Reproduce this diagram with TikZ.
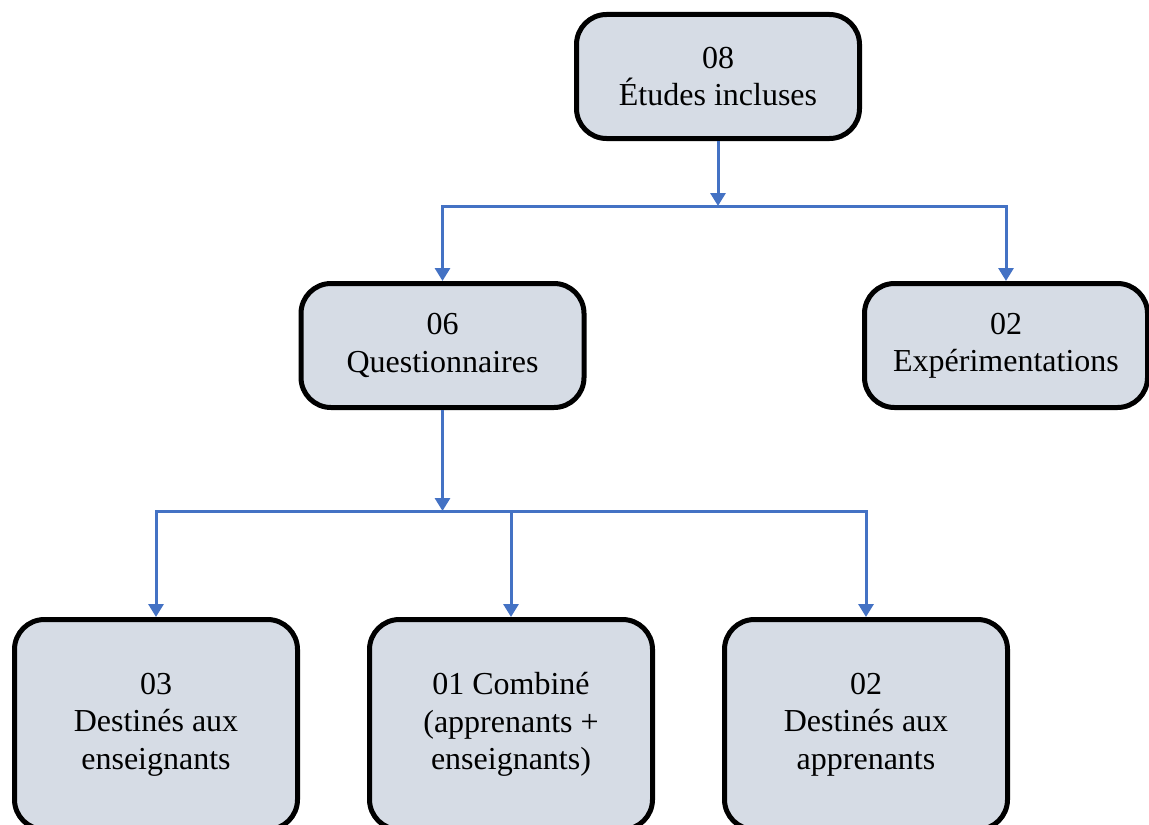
\documentclass[tikz,border=0pt]{standalone}
\usepackage{fontspec}
\setmainfont{Liberation Serif}
\usetikzlibrary{positioning,arrows.meta}
\definecolor{boxfill}{HTML}{D6DCE5}
\definecolor{linkblue}{HTML}{4472C4}
\tikzset{
  box/.style={
      draw=black,
      line width=2.5pt,
      rounded corners=15pt,
      fill=boxfill,
      align=center,
      minimum width=141.5pt,
      minimum height=62pt,
      font=\fontsize{16}{18.7}\selectfont
  },
  box+/.style={
      box,
      minimum height=105pt
  },
  link/.style={draw=linkblue, line width=1.5pt},
  arr/.style={link, -{Triangle[length=6.5pt,width=7.5pt]}}
}
\begin{document}
\begin{tikzpicture}[x=0.5pt,y=-0.5pt]
  \useasboundingbox (0,0) rectangle (1149,824);
  % niveaux
  \node[box] (etudes) at (718,76.5) {08\\Études incluses};
  \node[box] (quest) at (442.5,345.5) {06\\Questionnaires};
  \node[box] (exper) at (1006,345.5) {02\\Expérimentations};
  \node[box+] (ens) at (156,724.5) {03\\Destinés aux\\enseignants};
  \node[box+] (comb) at (511,724.5) {01 Combiné\\(apprenants +\\enseignants)};
  \node[box+] (app) at (866,724.5) {02\\Destinés aux\\apprenants};
  % embranchements
  \coordinate (split1) at (718,206);
  \coordinate (split2) at (442.5,511);
  \draw[arr] (etudes.south) -- (split1);
  \draw[arr] (split1) -| (quest.north);
  \draw[arr] (split1) -| (exper.north);
  \draw[arr] (quest.south) -- (split2);
  \draw[arr] (split2) -| (ens.north);
  \draw[arr] (split2) -| (comb.north);
  \draw[arr] (split2) -| (app.north);
\end{tikzpicture}
\end{document}
